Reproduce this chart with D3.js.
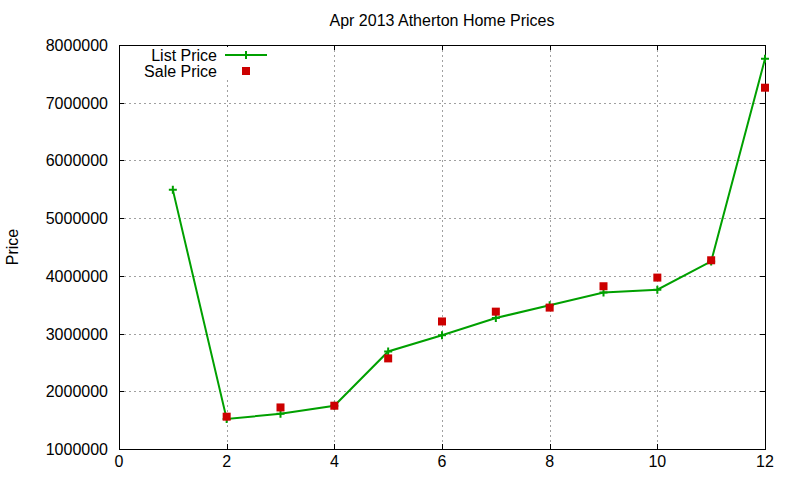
<!DOCTYPE html>
<html>
<head>
    <meta charset="utf-8">
    <script src="https://cdn.jsdelivr.net/npm/d3@7/dist/d3.min.js"></script>
    <title>Apr 2013 Atherton Home Prices</title>
    <style>
        body { margin: 0; background: white; }
        svg text { font-family: "Liberation Sans", Arial, sans-serif; font-size: 16px; fill: #000; }
    </style>
</head>
<body>
    <svg id="chart" width="800" height="480"></svg>
    <script>
        // data
        var months = [1, 2, 3, 4, 5, 6, 7, 8, 9, 10, 11, 12]
        var listPrice = [5490000, 1520000, 1610000, 1750000, 2690000, 2970000, 3270000, 3490000, 3710000, 3760000, 4250000, 7760000]
        var saleMonths = [2, 3, 4, 5, 6, 7, 8, 9, 10, 11, 12]
        var salePrice = [1560000, 1720000, 1750000, 2570000, 3210000, 3380000, 3450000, 3820000, 3970000, 4270000, 7260000]
        var xTicks = [0, 2, 4, 6, 8, 10, 12]
        var yTicks = [1000000, 2000000, 3000000, 4000000, 5000000, 6000000, 7000000, 8000000]

        var green = '#00a000', red = '#cc0000'
        // note: "top" is window.top, so use other names
        var pLeft = 119, pRight = 765, pTop = 45, pBottom = 449

        var svg = d3.select('#chart')
        var x = d3.scaleLinear().domain([0, 12]).range([pLeft, pRight])
        var y = d3.scaleLinear().domain([1000000, 8000000]).range([pBottom, pTop])

        // grid
        var grid = svg.append('g').attr('stroke', '#a0a0a0').attr('stroke-dasharray', '2,3').attr('stroke-width', 1)
        grid.selectAll('.gx').data(xTicks.slice(1, -1)).enter().append('line')
            .attr('x1', d => Math.round(x(d)) + 0.5).attr('x2', d => Math.round(x(d)) + 0.5)
            .attr('y1', pTop).attr('y2', pBottom)
        grid.selectAll('.gy').data(yTicks.slice(1, -1)).enter().append('line')
            .attr('y1', d => Math.round(y(d)) + 0.5).attr('y2', d => Math.round(y(d)) + 0.5)
            .attr('x1', pLeft).attr('x2', pRight)

        // axes: inward ticks, mirrored on all four sides
        var ax = svg.append('g').attr('stroke', '#000').attr('stroke-width', 1)
        xTicks.forEach(function (d) {
            var px = Math.round(x(d)) + 0.5
            ax.append('line').attr('x1', px).attr('x2', px).attr('y1', pBottom).attr('y2', pBottom - 5)
            ax.append('line').attr('x1', px).attr('x2', px).attr('y1', pTop).attr('y2', pTop + 5)
        })
        yTicks.forEach(function (d) {
            var py = Math.round(y(d)) + 0.5
            ax.append('line').attr('x1', pLeft).attr('x2', pLeft + 5).attr('y1', py).attr('y2', py)
            ax.append('line').attr('x1', pRight).attr('x2', pRight - 5).attr('y1', py).attr('y2', py)
        })
        svg.append('rect').attr('x', pLeft + 0.5).attr('y', pTop + 0.5)
            .attr('width', pRight - pLeft).attr('height', pBottom - pTop)
            .attr('fill', 'none').attr('stroke', '#000').attr('stroke-width', 1)

        svg.selectAll('.xl').data(xTicks).enter().append('text')
            .attr('x', d => x(d)).attr('y', pBottom + 18)
            .attr('text-anchor', 'middle').text(d => d)
        svg.selectAll('.yl').data(yTicks).enter().append('text')
            .attr('x', pLeft - 11).attr('y', d => y(d) + 6)
            .attr('text-anchor', 'end').text(d => d)

        svg.append('text').attr('x', (pLeft + pRight) / 2).attr('y', 26)
            .attr('text-anchor', 'middle').text('Apr 2013 Atherton Home Prices')
        svg.append('text').attr('transform', 'translate(18,' + ((pTop + pBottom) / 2) + ') rotate(-90)')
            .attr('text-anchor', 'middle').text('Price')

        // list price line + crosses
        var line = d3.line().x(d => x(d[0])).y(d => y(d[1]))
        var listPts = months.map((m, i) => [m, listPrice[i]])
        svg.append('path').datum(listPts).attr('d', line)
            .attr('fill', 'none').attr('stroke', green).attr('stroke-width', 2)
        function cross(g, cx, cy) {
            g.append('path').attr('d', 'M' + (cx - 4) + ',' + cy + 'H' + (cx + 4) + 'M' + cx + ',' + (cy - 4) + 'V' + (cy + 4))
                .attr('stroke', green).attr('stroke-width', 2).attr('fill', 'none')
        }
        var marks = svg.append('g')
        listPts.forEach(d => cross(marks, x(d[0]), y(d[1])))

        // sale price squares
        svg.selectAll('.sale').data(saleMonths).enter().append('rect')
            .attr('x', d => x(d) - 4).attr('y', (d, i) => y(salePrice[i]) - 4)
            .attr('width', 8).attr('height', 8).attr('fill', red)

        // key (opaque box)
        var key = svg.append('g')
        key.append('rect').attr('x', 140).attr('y', 47).attr('width', 134).attr('height', 32).attr('fill', 'white')
        key.append('text').attr('x', 217).attr('y', 61).attr('text-anchor', 'end').text('List Price')
        key.append('text').attr('x', 217).attr('y', 77).attr('text-anchor', 'end').text('Sale Price')
        key.append('line').attr('x1', 225).attr('x2', 267).attr('y1', 55).attr('y2', 55)
            .attr('stroke', green).attr('stroke-width', 2)
        cross(key, 246, 55)
        key.append('rect').attr('x', 242).attr('y', 67).attr('width', 8).attr('height', 8).attr('fill', red)
    </script>
</body>
</html>
